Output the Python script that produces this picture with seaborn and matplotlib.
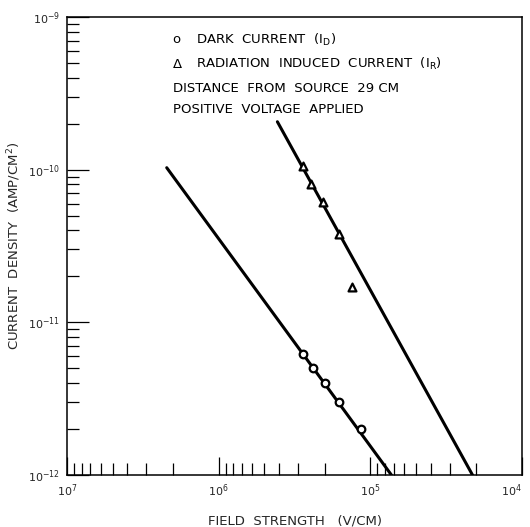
import pandas as pd
import seaborn as sns
import matplotlib.pyplot as plt
from matplotlib.ticker import LogLocator, NullFormatter

# measured points
field_dark = [2.8e5, 2.4e5, 2.0e5, 1.6e5, 1.15e5]
current_dark = [6.2e-12, 5.0e-12, 4.0e-12, 3.0e-12, 2.0e-12]
field_rad = [2.8e5, 2.45e5, 2.05e5, 1.6e5, 1.33e5]
current_rad = [1.05e-10, 8.1e-11, 6.1e-11, 3.8e-11, 1.7e-11]

# fitted straight lines (end points)
fit_dark_field = [2.2e6, 7.26e4]
fit_dark_current = [1.03e-10, 1.0e-12]
fit_rad_field = [4.1e5, 2.12e4]
fit_rad_current = [2.06e-10, 1.0e-12]

x_ticks = [1e7, 1e6, 1e5, 1e4]
x_labels = ['$10^7$', '$10^6$', '$10^5$', '$10^4$']
y_ticks = [1e-12, 1e-11, 1e-10, 1e-9]
y_labels = ['$10^{-12}$', '$10^{-11}$', '$10^{-10}$', '$10^{-9}$']

sns.set_theme(style="ticks")
plt.rcParams['font.family'] = ['DejaVu Sans']
plt.rcParams['mathtext.fontset'] = 'dejavusans'

fig = plt.figure(figsize=(5.30, 5.27), dpi=100)
ax = fig.add_axes([67 / 530, 1 - 475 / 527, 455 / 530, 458 / 527])

df_fit_d = pd.DataFrame({'E': fit_dark_field, 'J': fit_dark_current})
df_fit_r = pd.DataFrame({'E': fit_rad_field, 'J': fit_rad_current})
df_d = pd.DataFrame({'E': field_dark, 'J': current_dark})
df_r = pd.DataFrame({'E': field_rad, 'J': current_rad})

sns.lineplot(data=df_fit_d, x='E', y='J', color='black', lw=2.2, ax=ax, sort=False, zorder=2)
sns.lineplot(data=df_fit_r, x='E', y='J', color='black', lw=2.2, ax=ax, sort=False, zorder=2)
sns.scatterplot(data=df_d, x='E', y='J', marker='o', s=30, facecolor='white',
                edgecolor='black', linewidth=1.6, ax=ax, zorder=3)
sns.scatterplot(data=df_r, x='E', y='J', marker='^', s=32, facecolor='white',
                edgecolor='black', linewidth=1.6, ax=ax, zorder=3)

ax.set_xscale('log')
ax.set_yscale('log')
ax.set_xlim(1e7, 1e4)
ax.set_ylim(1e-12, 1e-9)

ax.set_xticks(x_ticks)
ax.set_xticklabels(x_labels)
ax.set_yticks(y_ticks)
ax.set_yticklabels(y_labels)
ax.xaxis.set_minor_locator(LogLocator(base=10, subs=range(2, 10)))
ax.yaxis.set_minor_locator(LogLocator(base=10, subs=range(2, 10)))
ax.xaxis.set_minor_formatter(NullFormatter())
ax.yaxis.set_minor_formatter(NullFormatter())

ax.tick_params(which='major', direction='in', width=0.9, labelsize=8,
               top=False, right=False, pad=5, color='black')
ax.tick_params(axis='x', which='major', length=13)
ax.tick_params(axis='y', which='major', length=16)
ax.tick_params(which='minor', direction='in', length=8.5, width=0.9,
               top=False, right=False, color='black')
# last x label sits against the right edge
ax.get_xticklabels()[-1].set_horizontalalignment('right')

for s in ax.spines.values():
    s.set_linewidth(1.1)
    s.set_color('black')

ax.set_xlabel('FIELD  STRENGTH   (V/CM)', fontsize=9.5)
ax.set_ylabel('CURRENT  DENSITY  (AMP/CM$^2$)', fontsize=9.5)
ax.xaxis.set_label_coords(0.5, -0.087)
ax.yaxis.set_label_coords(-0.097, 0.5)

txt = dict(transform=ax.transAxes, fontsize=9.5, va='center', ha='left', color='black')
ax.text(0.232, 0.950, 'o', **txt)
ax.text(0.284, 0.950, 'DARK  CURRENT  (I$_\\mathregular{D}$)', **txt)
ax.text(0.232, 0.897, 'Δ', **txt)
ax.text(0.284, 0.897, 'RADIATION  INDUCED  CURRENT  (I$_\\mathregular{R}$)', **txt)
ax.text(0.232, 0.843, 'DISTANCE  FROM  SOURCE  29 CM', **txt)
ax.text(0.232, 0.797, 'POSITIVE  VOLTAGE  APPLIED', **txt)

plt.savefig('out.png', dpi=100)
